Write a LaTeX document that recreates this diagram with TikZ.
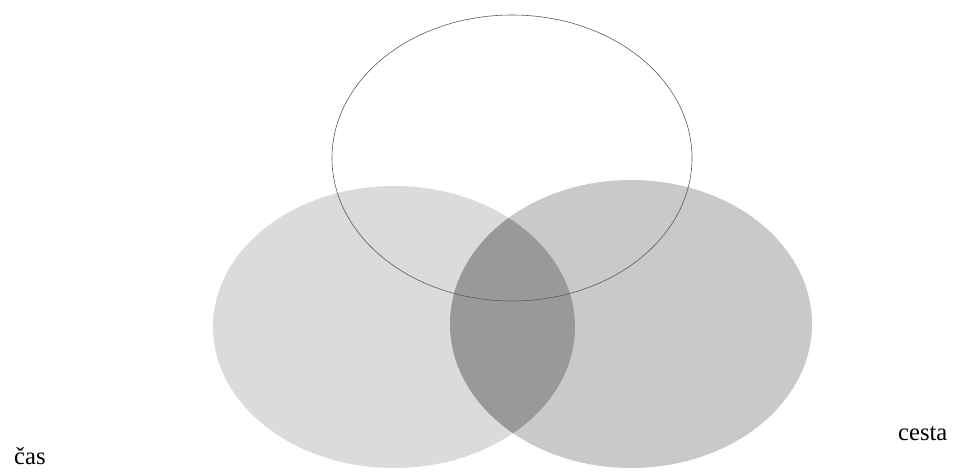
\documentclass[tikz,border=0pt]{standalone}
\usepackage{fontspec}
\setmainfont{Liberation Serif}
\begin{document}
\begin{tikzpicture}[lbl/.style={font=\fontsize{21}{25}\selectfont, inner sep=0pt}]
 \useasboundingbox (0,0) rectangle (28.74,14.19);
 \fill[gray!28] (11.82,4.38) ellipse [x radius=5.43, y radius=4.23];
 \fill[gray!42] (18.93,4.47) ellipse [x radius=5.43, y radius=4.32];
 \begin{scope}
  \clip (11.82,4.38) ellipse [x radius=5.43, y radius=4.23];
  \fill[gray!80] (18.93,4.47) ellipse [x radius=5.43, y radius=4.32];
 \end{scope}
 \draw[gray!70!black, line width=0.5pt] (15.36,9.45) ellipse [x radius=5.4, y radius=4.29];
 \node[lbl, anchor=base west] (cas) at (0.42,0.27) {čas};
 \node[lbl, anchor=base west] (cesta) at (26.94,0.99) {cesta};
\end{tikzpicture}
\end{document}
